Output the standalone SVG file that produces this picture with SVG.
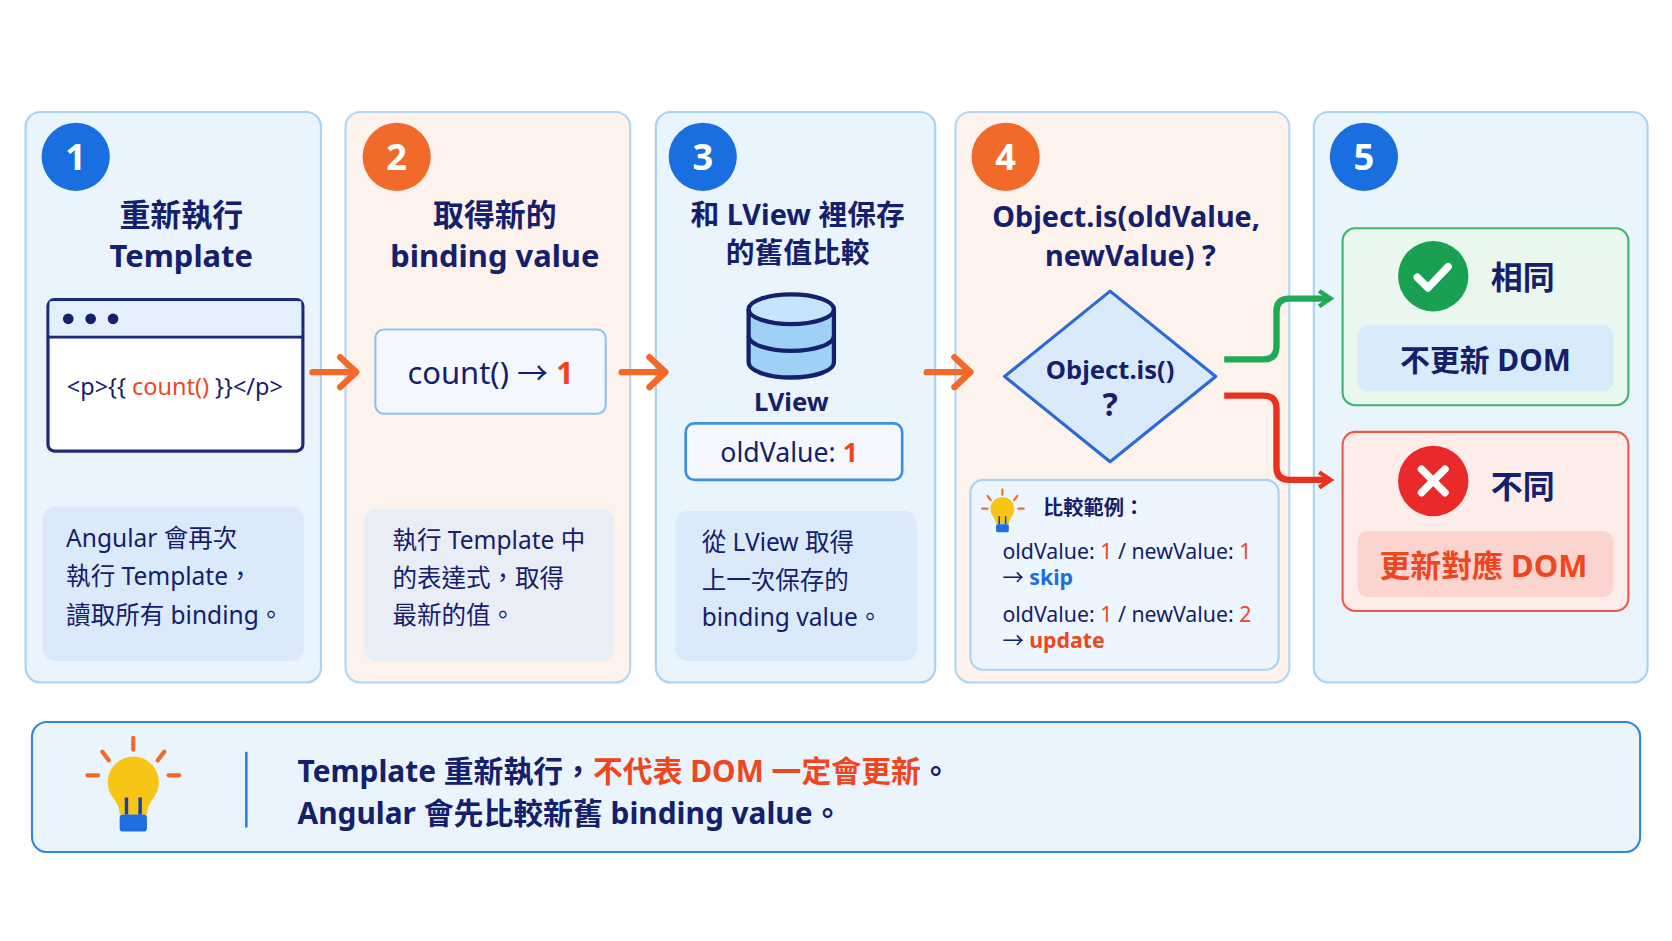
<svg xmlns="http://www.w3.org/2000/svg" width="1672" height="941" viewBox="0 0 1672 941">
<defs>
<style>
text{font-family:"Noto Sans","Noto Sans CJK TC",sans-serif;fill:#14206b}
.t{font-size:29px;font-weight:bold;text-anchor:middle}
.t2{font-size:27px;font-weight:bold;text-anchor:middle}
.d{font-size:23px}
.num{font-size:34px;font-weight:bold;fill:#fff;text-anchor:middle}
.pb{fill:#eaf4fd;stroke:#a9d3f2;stroke-width:2}
.po{fill:#fdf3ec;stroke:#b3d7f0;stroke-width:2}
.db{fill:#dbeafb}
.r{fill:#f0461e}
.ar{fill:none;stroke:#f26a2a;stroke-width:6;stroke-linecap:round;stroke-linejoin:round}
</style>
<g id="bulb"><path d="M-12,8 a15,15 0 1,1 24,0 q-4,5 -4,10 h-16 q0,-5 -4,-10z" fill="#f7c515"/><rect x="-8" y="18" width="16" height="10" rx="2" fill="#1f6fe0"/><path d="M-4,18 v-10 M4,18 v-10" stroke="#1f3fa0" stroke-width="2"/></g>
<marker id="ag" viewBox="0 0 10 10" refX="6" refY="5" markerWidth="3" markerHeight="3" orient="auto"><path d="M1,1 L7,5 L1,9" fill="none" stroke="#1faa55" stroke-width="2.2"/></marker>
<marker id="arr" viewBox="0 0 10 10" refX="6" refY="5" markerWidth="3" markerHeight="3" orient="auto"><path d="M1,1 L7,5 L1,9" fill="none" stroke="#e8321e" stroke-width="2.2"/></marker>
</defs>
<rect width="1672" height="941" fill="#fff"/>
<g transform="scale(1.0664)">
<g id="n1">
<rect class="pb" x="24" y="105" width="277" height="535" rx="14"/>
<circle cx="71" cy="147" r="32" fill="#1a6fe0"/><text class="num" x="71" y="159">1</text>
<text class="t" x="170" y="212">重新執行</text><text class="t" x="170" y="250">Template</text>
<rect x="45" y="281" width="239" height="142" rx="6" fill="#fff" stroke="#1b2a7a" stroke-width="3"/>
<path d="M45,316 H284" stroke="#1b2a7a" stroke-width="3"/><rect x="46.5" y="282.5" width="236" height="32" fill="#e4effc"/>
<circle cx="64" cy="299" r="5" fill="#14206b"/><circle cx="85" cy="299" r="5" fill="#14206b"/><circle cx="106" cy="299" r="5" fill="#14206b"/>
<text x="164" y="370" font-size="22" text-anchor="middle">&lt;p&gt;{{ <tspan class="r">count()</tspan> }}&lt;/p&gt;</text>
<rect class="db" x="40" y="475" width="245" height="145" rx="12"/>
<text class="d" x="62" y="513">Angular 會再次</text><text class="d" x="62" y="549">執行 Template，</text><text class="d" x="62" y="585">讀取所有 binding。</text>
</g>
<g id="n2">
<rect class="po" x="324" y="105" width="267" height="535" rx="14"/>
<circle cx="372" cy="147" r="32" fill="#f26a2a"/><text class="num" x="372" y="159">2</text>
<text class="t" x="464" y="212">取得新的</text><text class="t" x="464" y="250">binding value</text>
<rect x="352" y="309" width="216" height="79" rx="8" fill="#f4f8fe" stroke="#8cc3ec" stroke-width="2"/>
<text x="460" y="360" font-size="29" text-anchor="middle">count() → <tspan class="r" font-weight="bold">1</tspan></text>
<rect x="341" y="477" width="235" height="143" rx="12" fill="#e9edf5"/>
<text class="d" x="368" y="515">執行 Template 中</text><text class="d" x="368" y="550">的表達式，取得</text><text class="d" x="368" y="585">最新的值。</text>
</g>
<g id="n3">
<rect class="pb" x="615" y="105" width="262" height="535" rx="14"/>
<circle cx="659" cy="147" r="32" fill="#1a6fe0"/><text class="num" x="659" y="159">3</text>
<text class="t2" x="748" y="211">和 LView 裡保存</text><text class="t2" x="748" y="247">的舊值比較</text>
<g stroke="#14206b" stroke-width="4" fill="#9fd0f5">
<path d="M702,290 v50 a40,14 0 0,0 80,0 v-50"/>
<path d="M702,315 a40,14 0 0,0 80,0" fill="none"/>
<ellipse cx="742" cy="290" rx="40" ry="14" fill="#c6e4fa"/></g>
<text x="742" y="385" font-size="24" font-weight="bold" text-anchor="middle">LView</text>
<rect x="643" y="397" width="203" height="53" rx="8" fill="#f4f8fe" stroke="#3d8fe0" stroke-width="2.5"/>
<text x="740" y="433" font-size="25" text-anchor="middle">oldValue: <tspan class="r" font-weight="bold">1</tspan></text>
<rect class="db" x="633" y="479" width="227" height="141" rx="12"/>
<text class="d" x="658" y="517">從 LView 取得</text><text class="d" x="658" y="552">上一次保存的</text><text class="d" x="658" y="587">binding value。</text>
</g>
<g id="n4">
<rect class="po" x="896" y="105" width="313" height="535" rx="14"/>
<circle cx="943" cy="147" r="32" fill="#f26a2a"/><text class="num" x="943" y="159">4</text>
<text class="t2" x="1056" y="213">Object.is(oldValue,</text><text class="t2" x="1060" y="249">newValue) ?</text>
<path d="M1041,273 L1140,353 L1041,433 L942,353Z" fill="#dbeafb" stroke="#2b6ad8" stroke-width="3" stroke-linejoin="round"/>
<text x="1041" y="355" font-size="24" font-weight="bold" text-anchor="middle">Object.is()</text>
<text x="1041" y="390" font-size="30" font-weight="bold" text-anchor="middle">?</text>
<rect x="910" y="450" width="289" height="178" rx="12" fill="#edf6fe" stroke="#a9d3f2" stroke-width="2"/>
<use href="#bulb" transform="translate(940,478) scale(0.75)"/>
<path d="M926,465 l3,4 M940,459 v5 M954,465 l-3,4 M921,477 h5 M955,477 h5" stroke="#f26a2a" stroke-width="2" stroke-linecap="round"/>
<text x="978" y="483" font-size="19" font-weight="bold">比較範例：</text>
<text x="940" y="524" font-size="20">oldValue: <tspan class="r">1</tspan> / newValue: <tspan class="r">1</tspan></text>
<text x="940" y="549" font-size="20">→ <tspan font-weight="bold" fill="#1a6fe0">skip</tspan></text>
<text x="940" y="583" font-size="20">oldValue: <tspan class="r">1</tspan> / newValue: <tspan class="r">2</tspan></text>
<text x="940" y="608" font-size="20">→ <tspan font-weight="bold" class="r">update</tspan></text>
</g>
<g id="n5">
<rect class="pb" x="1232" y="105" width="313" height="535" rx="14"/>
<circle cx="1279" cy="147" r="32" fill="#1a6fe0"/><text class="num" x="1279" y="159">5</text>
<rect x="1259" y="214" width="268" height="166" rx="12" fill="#eaf7ee" stroke="#3db36b" stroke-width="2"/>
<circle cx="1344" cy="259" r="33" fill="#1aa052"/><path d="M1329,260 l10,10 l19,-20" fill="none" stroke="#fff" stroke-width="7" stroke-linecap="round" stroke-linejoin="round"/>
<text x="1428" y="271" font-size="30" font-weight="bold" text-anchor="middle">相同</text>
<rect x="1273" y="305" width="240" height="62" rx="10" fill="#d8ebfa"/>
<text x="1393" y="348" font-size="28" font-weight="bold" text-anchor="middle">不更新 DOM</text>
<rect x="1259" y="405" width="268" height="168" rx="12" fill="#fdecea" stroke="#ee5a4a" stroke-width="2"/>
<circle cx="1344" cy="451" r="33" fill="#ea2a2a"/><path d="M1333,440 l22,22 M1355,440 l-22,22" stroke="#fff" stroke-width="7" stroke-linecap="round"/>
<text x="1428" y="467" font-size="30" font-weight="bold" text-anchor="middle">不同</text>
<rect x="1273" y="498" width="240" height="62" rx="10" fill="#fbd3cf"/>
<text x="1391" y="541" font-size="29" font-weight="bold" text-anchor="middle" class="r">更新對應 DOM</text>
</g>
<g id="connectors">
<path class="ar" d="M293,349 H333 M319,335 L334,349 L319,363"/>
<path class="ar" d="M583,349 H623 M609,335 L624,349 L609,363"/>
<path class="ar" d="M869,349 H909 M895,335 L910,349 L895,363"/>
<path d="M1148,337 H1185 Q1197,337 1197,325 V292 Q1197,280 1209,280 H1246" fill="none" stroke="#1faa55" stroke-width="6" marker-end="url(#ag)"/>
<path d="M1148,371 H1185 Q1197,371 1197,383 V438 Q1197,450 1209,450 H1246" fill="none" stroke="#e8321e" stroke-width="6" marker-end="url(#arr)"/>
</g>
<g id="note">
<rect x="30" y="677" width="1508" height="122" rx="14" fill="#eaf4fd" stroke="#2f87e0" stroke-width="2"/>
<use href="#bulb" transform="translate(125,735) scale(1.6)"/>
<path d="M96,705 l6,8 M125,692 v11 M154,705 l-6,8 M82,727 h10 M158,727 h10" stroke="#f26a2a" stroke-width="4" stroke-linecap="round"/>
<path d="M231,705 V776" stroke="#2f87e0" stroke-width="2.5"/>
<text x="279" y="733" font-size="28" font-weight="bold">Template 重新執行，<tspan class="r">不代表 DOM 一定會更新</tspan>。</text>
<text x="279" y="773" font-size="28" font-weight="bold">Angular 會先比較新舊 binding value。</text>
</g>
</g>
</svg>
